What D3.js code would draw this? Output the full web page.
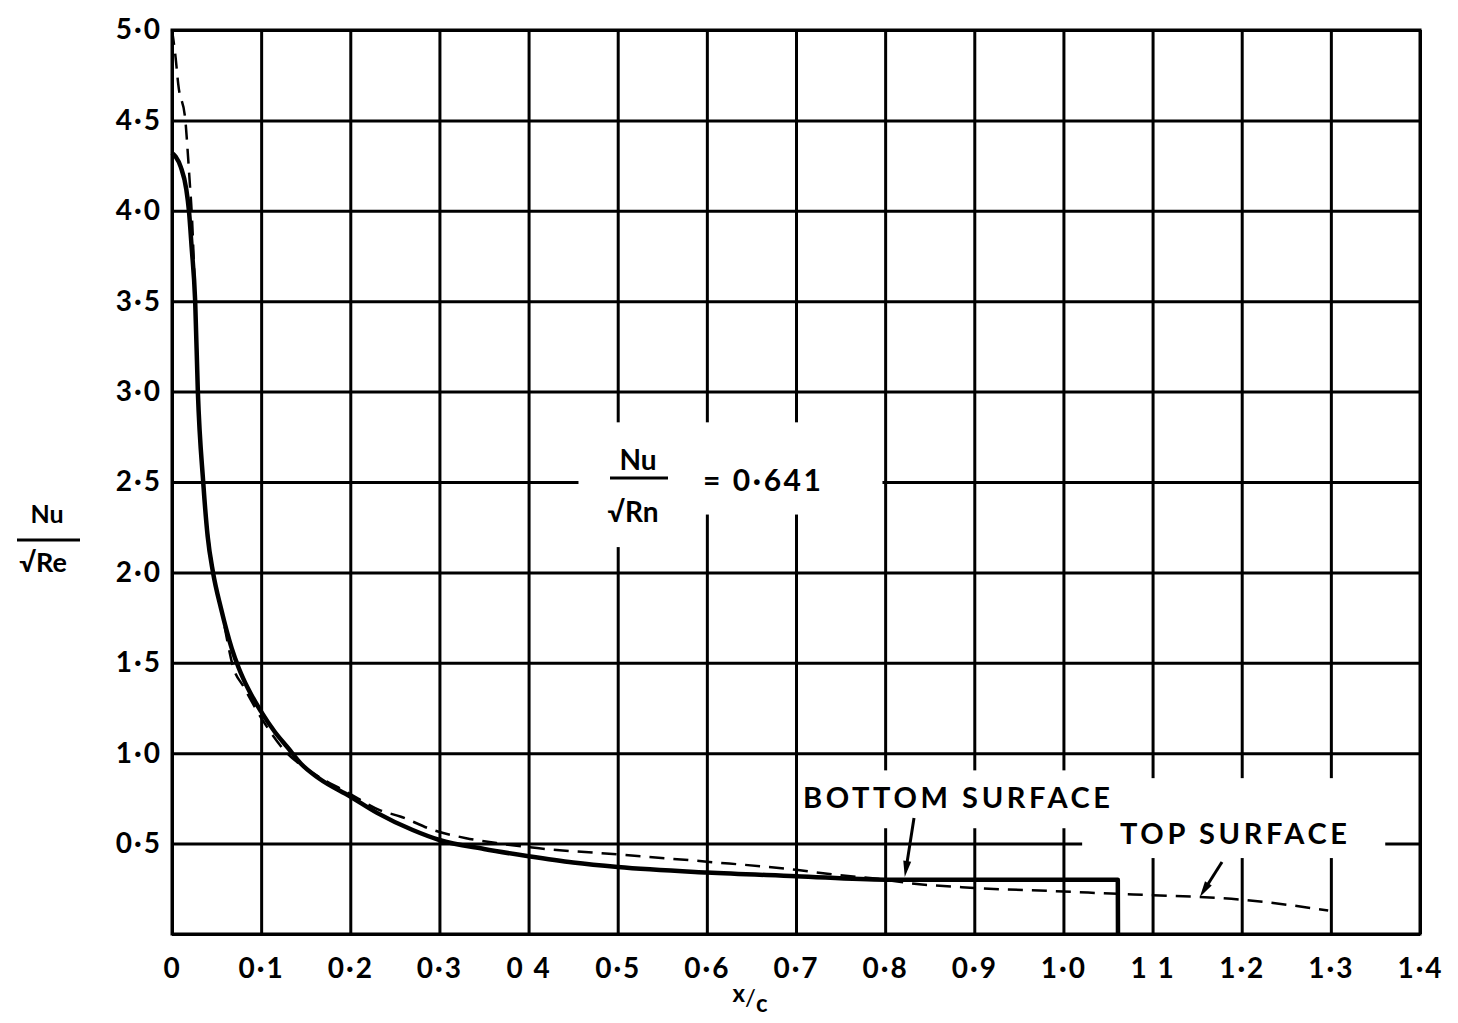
<!DOCTYPE html>
<html>
<head>
<meta charset="utf-8">
<script src="https://cdn.jsdelivr.net/npm/d3@7"></script>
<style>
  html, body { margin: 0; padding: 0; background: #fff; }
  svg { display: block; }
  text { font-family: Lato, "DejaVu Sans", sans-serif; font-weight: 700; fill: #000; }
</style>
</head>
<body>
<svg id="chart" width="1458" height="1023"></svg>
<script>
// Heat transfer along the chord: Nu/sqrt(Re) against x/c
const xTicks = [0, 0.1, 0.2, 0.3, 0.4, 0.5, 0.6, 0.7, 0.8, 0.9, 1.0, 1.1, 1.2, 1.3, 1.4];
const xTickLabels = ["0", "0·1", "0·2", "0·3", "0 4", "0·5", "0·6", "0·7", "0·8", "0·9", "1·0", "1 1", "1·2", "1·3", "1·4"];
const yTicks = [0, 0.5, 1.0, 1.5, 2.0, 2.5, 3.0, 3.5, 4.0, 4.5, 5.0];
const yTickLabels = ["", "0·5", "1·0", "1·5", "2·0", "2·5", "3·0", "3·5", "4·0", "4·5", "5·0"];

// Bottom surface (solid)
const bottomX = [0, 0.004, 0.010, 0.016, 0.019, 0.022, 0.026, 0.029, 0.035, 0.040, 0.046, 0.055, 0.067, 0.075, 0.085, 0.100, 0.115, 0.130, 0.145, 0.165, 0.200, 0.230, 0.270, 0.300, 0.350, 0.400, 0.450, 0.500, 0.600, 0.700, 0.800, 0.900, 1.000, 1.061, 1.0612];
const bottomY = [4.32, 4.30, 4.24, 4.12, 4.00, 3.80, 3.50, 3.00, 2.50, 2.20, 2.00, 1.80, 1.58, 1.47, 1.36, 1.23, 1.12, 1.03, 0.94, 0.86, 0.76, 0.67, 0.575, 0.52, 0.47, 0.43, 0.395, 0.37, 0.34, 0.32, 0.30, 0.30, 0.30, 0.30, 0];

// Top surface (dashed)
const topX = [0, 0.004, 0.007, 0.015, 0.018, 0.020, 0.022, 0.026, 0.029, 0.035, 0.046, 0.055, 0.069, 0.080, 0.102, 0.129, 0.152, 0.198, 0.233, 0.256, 0.293, 0.330, 0.368, 0.400, 0.500, 0.600, 0.700, 0.740, 0.800, 0.830, 0.900, 1.000, 1.061, 1.100, 1.200, 1.297];
const topY = [5.00, 4.85, 4.70, 4.50, 4.30, 4.15, 4.00, 3.50, 3.00, 2.50, 2.00, 1.80, 1.47, 1.37, 1.18, 1.00, 0.91, 0.78, 0.685, 0.65, 0.575, 0.53, 0.50, 0.48, 0.44, 0.40, 0.355, 0.33, 0.30, 0.28, 0.255, 0.235, 0.222, 0.215, 0.19, 0.13];

const headline = "= 0·641";

const svg = d3.select("#chart");
const x = d3.scaleLinear().domain([0, 1.4]).range([172, 1420]);
const y = d3.scaleLinear().domain([0, 5]).range([934, 30]);
const H = y(0) - y(5), W = x(1.4) - x(0);

// grid + tick labels via axes
const gx = svg.append("g").attr("transform", `translate(0,${y(0)})`)
  .call(d3.axisBottom(x).tickValues(xTicks).tickFormat((d, i) => xTickLabels[i])
    .tickSize(-H).tickPadding(24));
const gy = svg.append("g").attr("transform", `translate(${x(0)},0)`)
  .call(d3.axisLeft(y).tickValues(yTicks).tickFormat((d, i) => yTickLabels[i])
    .tickSize(-W).tickPadding(10));
[gx, gy].forEach(g => {
  g.select(".domain").remove();
  g.selectAll(".tick line").attr("stroke", "#000").attr("stroke-width", 3);
  g.selectAll(".tick text").style("font-size", "28px").style("letter-spacing", "2px");
});

// white boxes that break the grid behind the annotations
const masks = [
  [0.456, 0.797, 2.83, 2.32],
  [0.476, 0.553, 2.33, 2.14],
  [0.705, 1.055, 0.905, 0.585],
  [1.021, 1.361, 0.862, 0.42]
];
svg.append("g").selectAll("rect").data(masks).join("rect")
  .attr("x", d => x(d[0])).attr("width", d => x(d[1]) - x(d[0]))
  .attr("y", d => y(d[2])).attr("height", d => y(d[3]) - y(d[2]))
  .attr("fill", "#fff");

// frame
svg.append("rect").attr("x", x(0)).attr("y", y(5)).attr("width", W).attr("height", H)
  .attr("fill", "none").attr("stroke", "#000").attr("stroke-width", 3);

// curves
const line = d3.line().x(d => x(d[0])).y(d => y(d[1])).curve(d3.curveMonotoneX);
svg.append("path").datum(d3.zip(topX, topY)).attr("d", line)
  .attr("fill", "none").attr("stroke", "#000").attr("stroke-width", 2.5)
  .attr("stroke-dasharray", "15,9");
svg.append("path").datum(d3.zip(bottomX, bottomY)).attr("d", line)
  .attr("fill", "none").attr("stroke", "#000").attr("stroke-width", 4.5)
  .attr("stroke-linejoin", "round");

// labels with arrows
function arrow(x1, y1, x2, y2) {
  const a = Math.atan2(y2 - y1, x2 - x1), L = 16, w = 4;
  svg.append("line").attr("x1", x1).attr("y1", y1).attr("x2", x2 - Math.cos(a) * 8).attr("y2", y2 - Math.sin(a) * 8)
    .attr("stroke", "#000").attr("stroke-width", 3);
  const bx = x2 - Math.cos(a) * L, by = y2 - Math.sin(a) * L;
  svg.append("path").attr("d",
    `M${x2},${y2}L${bx - Math.sin(a) * w},${by + Math.cos(a) * w}L${bx + Math.sin(a) * w},${by - Math.cos(a) * w}Z`)
    .attr("fill", "#000");
}
svg.append("text").attr("x", 803).attr("y", 808).attr("textLength", 307).attr("lengthAdjust", "spacing")
  .style("font-size", "29px").text("BOTTOM  SURFACE");
arrow(914, 818, x(0.822), y(0.315));
svg.append("text").attr("x", 1120).attr("y", 844).attr("textLength", 227).attr("lengthAdjust", "spacing")
  .style("font-size", "29px").text("TOP  SURFACE");
arrow(1222, 862, x(1.153), y(0.205));

// formula
svg.append("text").attr("x", 638).attr("y", 470).attr("text-anchor", "middle").style("font-size", "28px").text("Nu");
svg.append("line").attr("x1", 610).attr("x2", 668).attr("y1", 478).attr("y2", 478).attr("stroke", "#000").attr("stroke-width", 3);
svg.append("text").attr("x", 633).attr("y", 522).attr("text-anchor", "middle").style("font-size", "28px").text("√Rn");
svg.append("text").attr("x", 703).attr("y", 491).attr("textLength", 118).attr("lengthAdjust", "spacing")
  .style("font-size", "30px").text(headline);

// y-axis title
svg.append("text").attr("x", 47).attr("y", 523).attr("text-anchor", "middle").style("font-size", "25px").text("Nu");
svg.append("line").attr("x1", 17).attr("x2", 80).attr("y1", 540).attr("y2", 540).attr("stroke", "#000").attr("stroke-width", 3);
svg.append("text").attr("x", 43).attr("y", 572).attr("text-anchor", "middle").style("font-size", "27px").text("√Re");

// x-axis title
const xt = svg.append("text").attr("x", 750).attr("y", 1006).attr("text-anchor", "middle").style("font-size", "24px");
xt.append("tspan").attr("dy", -4).text("x");
xt.append("tspan").style("font-weight", 400).attr("dy", 4).text("/");
xt.append("tspan").attr("dy", 6).text("c");
</script>
</body>
</html>
